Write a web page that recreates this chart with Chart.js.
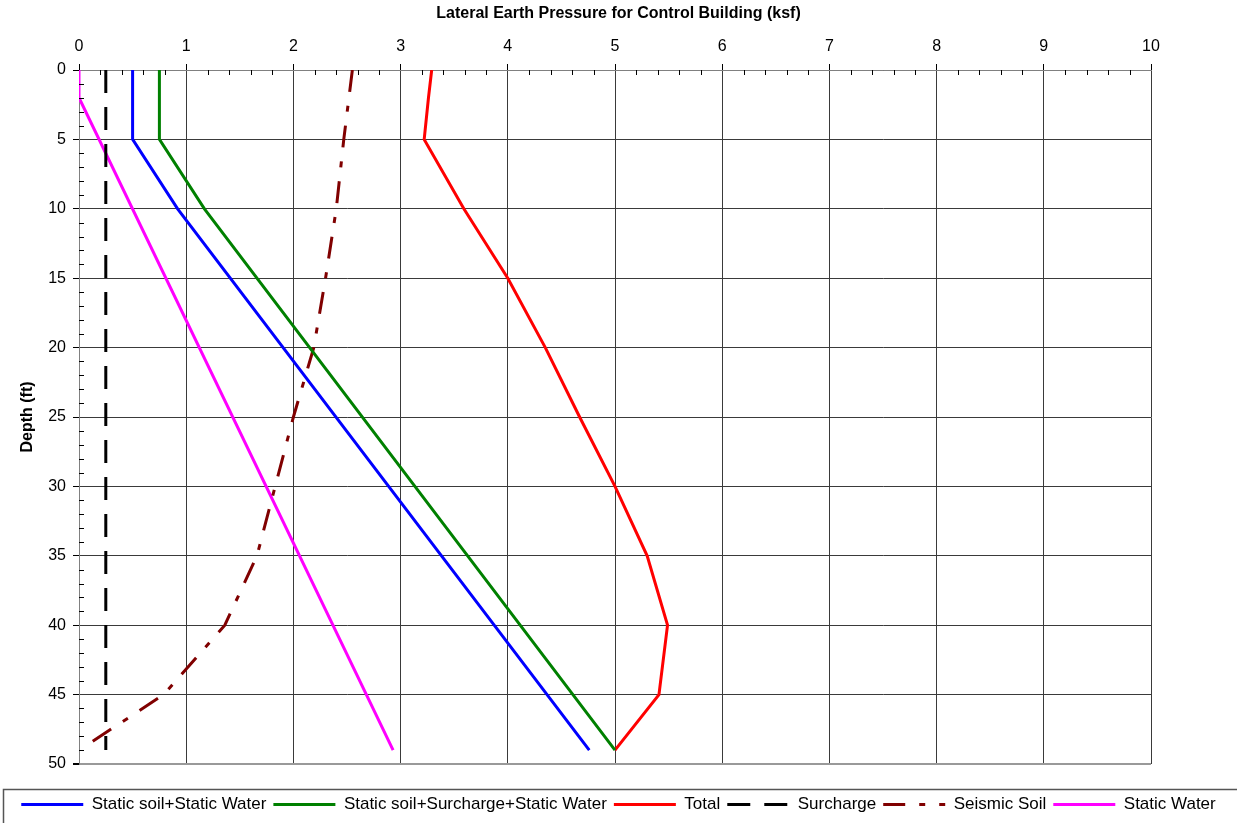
<!DOCTYPE html>
<html>
<head>
<meta charset="utf-8">
<script src="https://cdn.jsdelivr.net/npm/chart.js@4/dist/chart.umd.min.js"></script>
<style>
  html, body { margin: 0; padding: 0; background: #fff; }
  #wrap { width: 1237px; height: 823px; }
</style>
</head>
<body>
<div id="wrap"><canvas id="pressureChart"></canvas></div>
<script>
// depth (ft) and pressure (ksf)
var soilWaterDepth = [0, 5, 10, 49];
var soilWaterVals  = [0.5, 0.5, 0.92, 4.76];

var soilSurchDepth = [0, 5, 10, 49];
var soilSurchVals  = [0.75, 0.75, 1.17, 5.0];

var totalDepth = [0, 2, 5, 10, 15, 20, 25, 30, 35, 40, 45, 49];
var totalVals  = [3.29, 3.26, 3.22, 3.59, 4.0, 4.35, 4.67, 5.0, 5.3, 5.49, 5.41, 5.0];

var surchargeDepth = [0, 49];
var surchargeVals  = [0.25, 0.25];

var seismicDepth = [0, 5, 10, 15, 20, 25, 30, 35, 40, 45, 48.5];
var seismicVals  = [2.55, 2.47, 2.40, 2.30, 2.19, 2.0, 1.83, 1.66, 1.36, 0.79, 0.1];

var waterDepth = [0, 2, 49];
var waterVals  = [0, 0, 2.93];

var xTicks = [0, 1, 2, 3, 4, 5, 6, 7, 8, 9, 10];
var yTicks = [0, 5, 10, 15, 20, 25, 30, 35, 40, 45, 50];

function pts(vals, depths) {
	return vals.map(function(v, i) { return { x: v, y: depths[i] }; });
}

function series(label, vals, depths, color, dash) {
	return {
		label: label,
		data: pts(vals, depths),
		xAxisID: 'x',
		yAxisID: 'y',
		showLine: true,
		borderColor: color,
		backgroundColor: color,
		borderWidth: 3,
		borderDash: dash || [],
		pointRadius: 0,
		pointHoverRadius: 0,
		tension: 0
	};
}

// small inside ticks + legend frame
var extras = {
	id: 'extras',
	afterDraw: function(chart) {
		var ctx = chart.ctx;
		var a = chart.chartArea;
		var xs = chart.scales.x, ys = chart.scales.y;
		ctx.save();
		ctx.strokeStyle = '#000';
		ctx.lineWidth = 1;
		ctx.beginPath();
		for (var i = 0; i <= 50; i++) {
			if (i % 5 == 0) continue;
			var px = Math.round(xs.getPixelForValue(i / 5)) + 0.5;
			ctx.moveTo(px, a.top);
			ctx.lineTo(px, a.top + 5);
		}
		for (var j = 0; j <= 50; j++) {
			if (j % 5 == 0) continue;
			var py = Math.round(ys.getPixelForValue(j)) + 0.5;
			ctx.moveTo(a.left, py);
			ctx.lineTo(a.left + 5, py);
		}
		ctx.stroke();

		var lg = chart.legend;
		ctx.strokeStyle = '#555';
		ctx.lineWidth = 1.5;
		ctx.strokeRect(3.5, lg.top + 0.5, 1240, 40);
		ctx.restore();
	}
};

var ctx = document.getElementById('pressureChart').getContext('2d');
var pressureChart = new Chart(ctx, {
	type: 'scatter',
	data: {
		datasets: [
			series('Static soil+Static Water', soilWaterVals, soilWaterDepth, '#0000ff'),
			series('Static soil+Surcharge+Static Water', soilSurchVals, soilSurchDepth, '#008000'),
			series('Total', totalVals, totalDepth, '#ff0000'),
			series('Surcharge', surchargeVals, surchargeDepth, '#000000', [23, 14]),
			series('Seismic Soil', seismicVals, seismicDepth, '#800000', [22, 14, 6, 14]),
			series('Static Water', waterVals, waterDepth, '#ff00ff')
		]
	},
	options: {
		responsive: true,
		maintainAspectRatio: false,
		animation: false,
		events: [],
		layout: { padding: 0 },
		plugins: {
			tooltip: { enabled: false },
			title: {
				display: true,
				text: 'Lateral Earth Pressure for Control Building (ksf)',
				color: '#000',
				font: { family: 'Liberation Sans, Arial, sans-serif', size: 16, weight: 'bold' },
				padding: { top: 4, bottom: 4 }
			},
			legend: {
				position: 'bottom',
				labels: {
					color: '#000',
					font: { family: 'Liberation Sans, Arial, sans-serif', size: 17 },
					usePointStyle: true,
					pointStyle: 'line',
					pointStyleWidth: 62,
					boxHeight: 17,
					padding: 7,
					generateLabels: function(chart) {
						var items = Chart.defaults.plugins.legend.labels.generateLabels(chart);
						items.forEach(function(it) {
							var ds = chart.data.datasets[it.datasetIndex];
							it.lineDash = ds.borderDash;
							it.lineWidth = 3;
							it.strokeStyle = ds.borderColor;
							it.pointStyle = 'line';
						});
						return items;
					}
				}
			}
		},
		scales: {
			x: {
				type: 'linear',
				position: 'top',
				min: 0,
				max: 10,
				afterBuildTicks: function(scale) {
					scale.ticks = xTicks.map(function(v) { return { value: v }; });
				},
				afterFit: function(scale) { scale.height = 42.8; },
				ticks: {
					color: '#000',
					font: { family: 'Liberation Sans, Arial, sans-serif', size: 16 },
					padding: 8,
					maxRotation: 0
				},
				grid: { color: '#3a3a3a', lineWidth: 1, tickLength: 6, tickColor: '#000' },
				border: { color: '#808080', width: 1 }
			},
			y: {
				type: 'linear',
				position: 'left',
				reverse: true,
				min: 0,
				max: 50,
				afterBuildTicks: function(scale) {
					scale.ticks = yTicks.map(function(v) { return { value: v }; });
				},
				afterFit: function(scale) { scale.width = 79; },
				ticks: {
					color: '#000',
					font: { family: 'Liberation Sans, Arial, sans-serif', size: 16 },
					padding: 7
				},
				title: {
					display: true,
					text: 'Depth (ft)',
					color: '#000',
					font: { family: 'Liberation Sans, Arial, sans-serif', size: 16, weight: 'bold' },
					padding: { top: 18, bottom: 0 }
				},
				grid: {
					color: function(c) { return c.tick && c.tick.value == 50 ? '#999' : '#3a3a3a'; },
					lineWidth: function(c) { return c.tick && c.tick.value == 50 ? 2 : 1; },
					tickLength: 6,
					tickColor: '#000'
				},
				border: { color: '#808080', width: 1 }
			},
			// spacer axes: gap above legend and empty strip on the right
			x2: {
				type: 'linear',
				position: 'bottom',
				display: true,
				afterFit: function(scale) { scale.height = 25; },
				ticks: { display: false },
				grid: { display: false, drawTicks: false },
				border: { display: false }
			},
			y2: {
				type: 'linear',
				position: 'right',
				display: true,
				afterFit: function(scale) { scale.width = 86; },
				ticks: { display: false },
				grid: { display: false, drawTicks: false },
				border: { display: false }
			}
		}
	},
	plugins: [extras]
});
</script>
</body>
</html>
